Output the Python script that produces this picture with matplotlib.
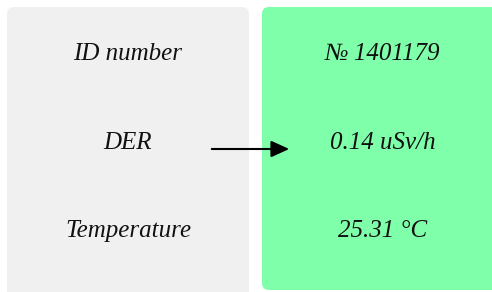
import matplotlib
matplotlib.use("Agg")
import matplotlib.pyplot as plt
from matplotlib.patches import FancyBboxPatch

# table contents
labels = ['ID number', 'DER', 'Temperature']
values = ['№ 1401179', '0.14 uSv/h', '25.31 °C']
row_y = [54, 143, 231]

fig = plt.figure(figsize=(4.92, 2.92), dpi=100)
ax = fig.add_axes([0, 0, 1, 1])
ax.set_xlim(0, 492)
ax.set_ylim(292, 0)
ax.axis('off')

# left grey panel
ax.add_patch(FancyBboxPatch((7, 7), 242, 300, boxstyle="round,pad=0,rounding_size=7",
                            fc='#f0f0f0', ec='none'))
# right green panel
ax.add_patch(FancyBboxPatch((262, 7), 250, 283, boxstyle="round,pad=0,rounding_size=7",
                            fc='#80ffaa', ec='none'))

for lab, val, y in zip(labels, values, row_y):
    ax.text(128, y, lab, ha='center', va='center', fontsize=18,
            family=['Liberation Serif', 'DejaVu Serif'], style='italic', color='#111111')
    ax.text(383, y, val, ha='center', va='center', fontsize=18,
            family=['Liberation Serif', 'DejaVu Serif'], style='italic', color='#111111')

# arrow pointing at the DER value
ax.annotate('', xy=(292, 149), xytext=(209, 149),
            arrowprops=dict(arrowstyle='-|>,head_length=1.1,head_width=0.5', color='black', lw=1.5))

fig.savefig('out.png', dpi=100)
